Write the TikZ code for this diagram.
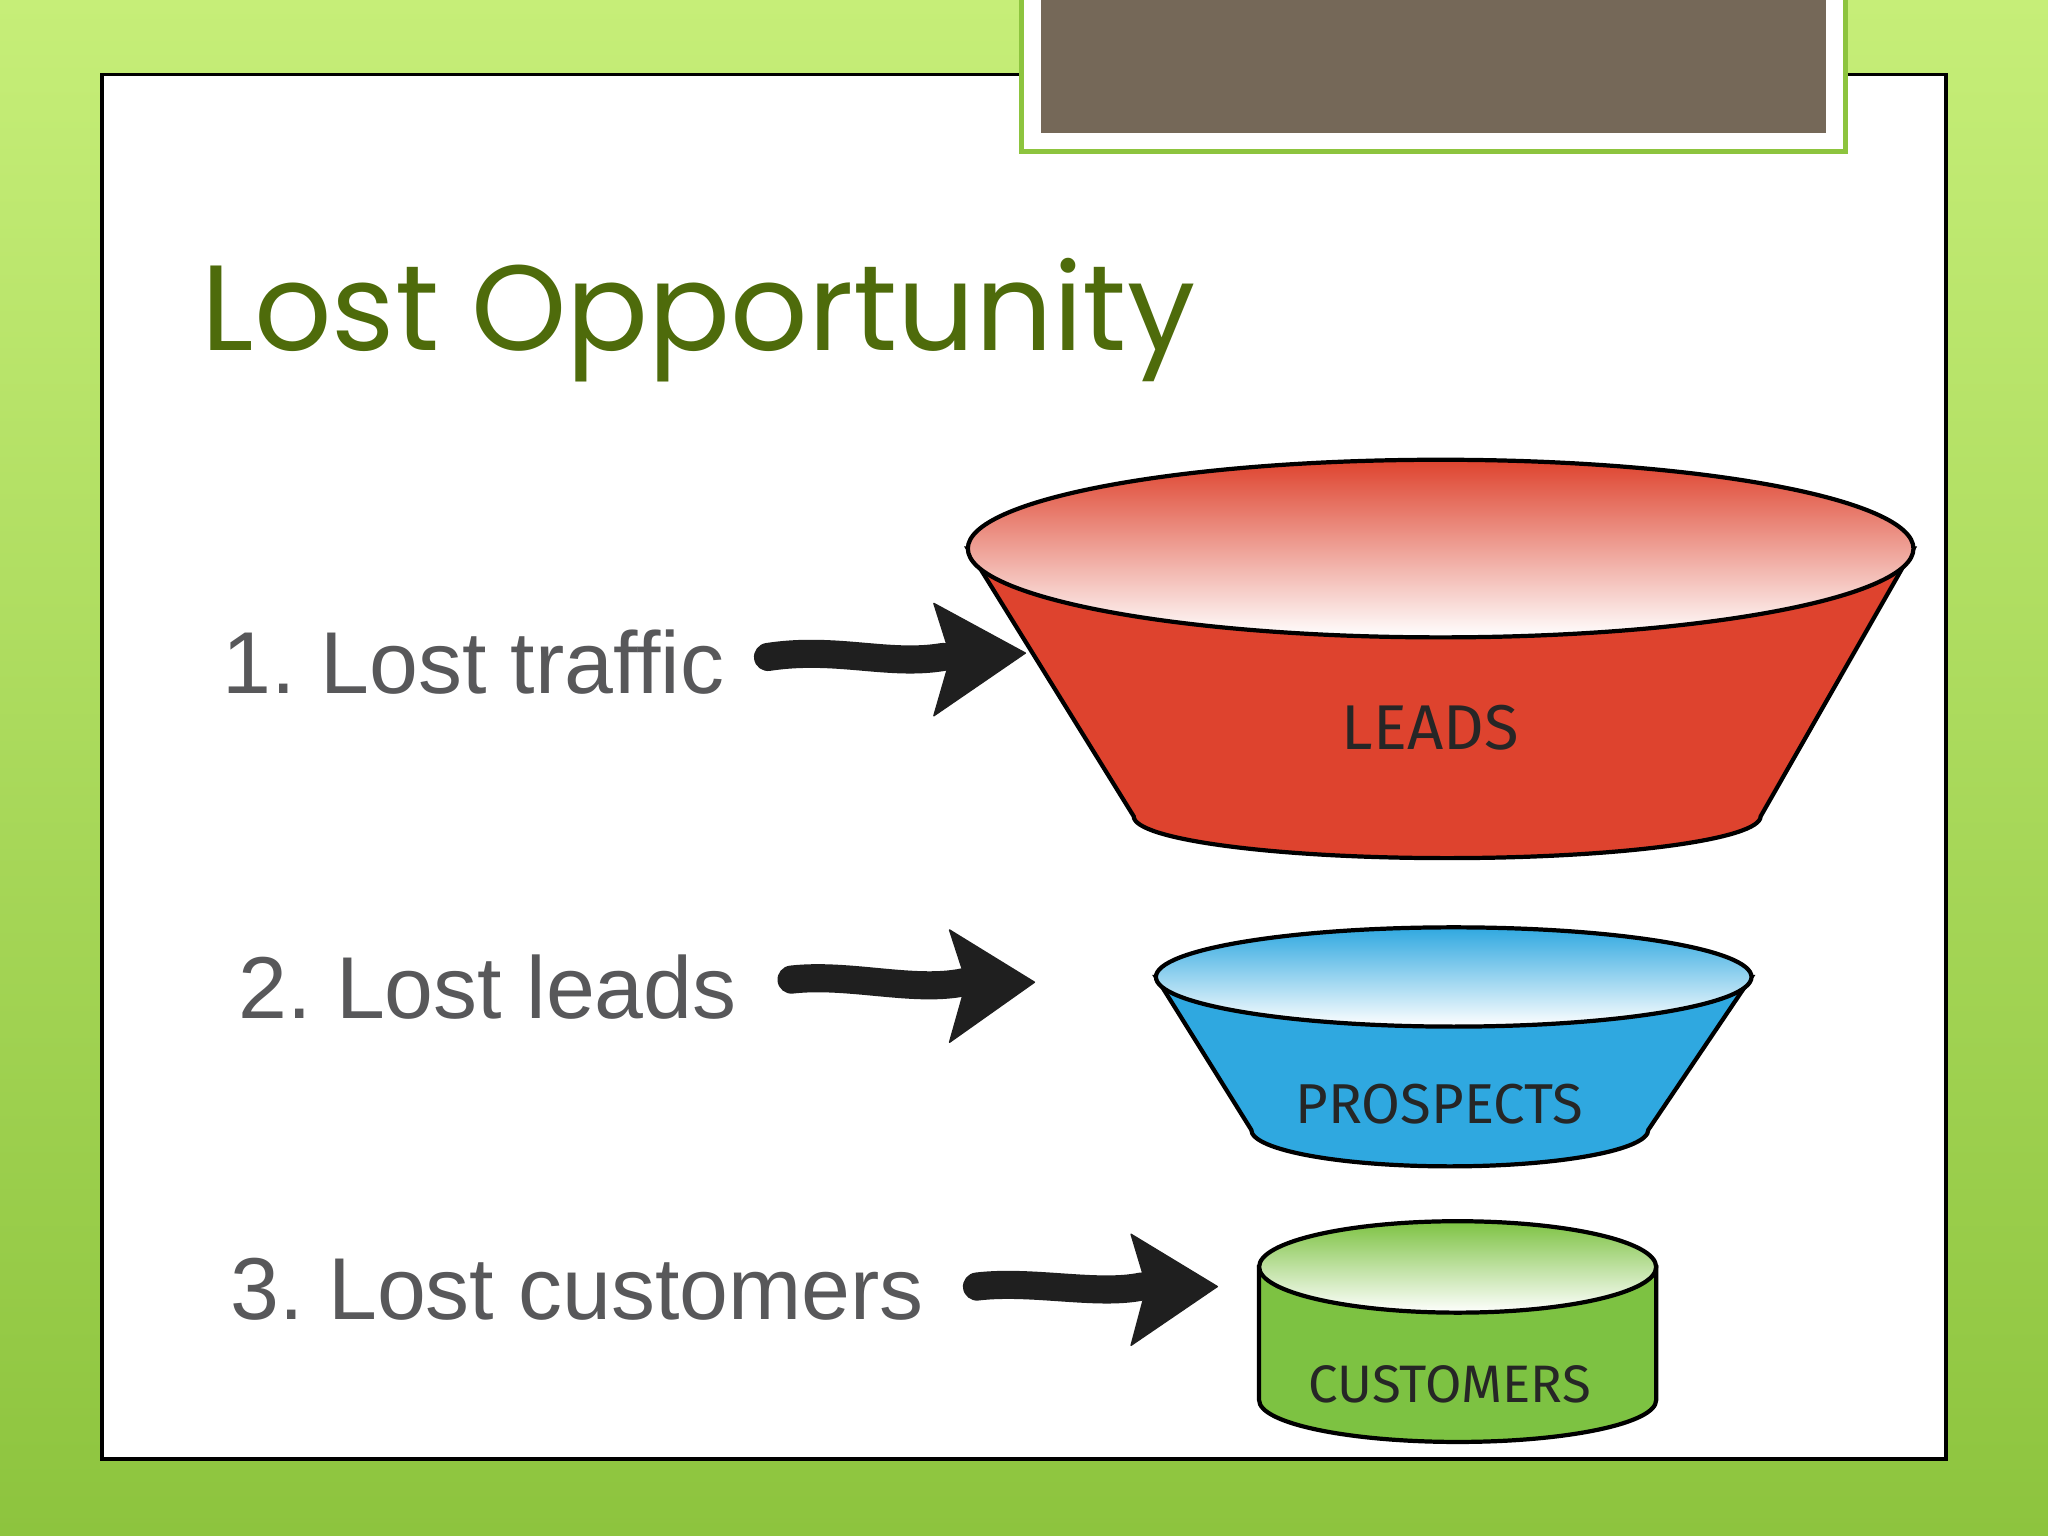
\documentclass[tikz,border=0pt]{standalone}
\usepackage{fontspec}
\setmainfont{Liberation Sans}
\newfontfamily\titlefont{Poppins}
\newfontfamily\handfont{Fira Sans}
\definecolor{bgA}{HTML}{C6EE78}
\definecolor{bgB}{HTML}{8DC43E}
\definecolor{brownbox}{HTML}{756858}
\definecolor{titlegreen}{HTML}{4E6B0B}
\definecolor{itemgray}{HTML}{58585A}
\definecolor{leadred}{HTML}{DE432E}
\definecolor{prosblue}{HTML}{2FA8E0}
\definecolor{custgreen}{HTML}{7DC242}
\tikzset{
 item/.style={anchor=base west,text=itemgray,font=\fontsize{25}{30}\selectfont,inner sep=0},
 flabel/.style={font=\handfont\fontsize{18}{22}\selectfont,text=black!85},
 shaft/.style={line width=8pt,line cap=round,black!88},
 head/.style={fill=black!88,draw=black!88,line join=round}
}
\begin{document}
\begin{tikzpicture}[x=0.013061cm,y=-0.013061cm]
\useasboundingbox (0,0) rectangle (1568,1176);
\shade[top color=bgA,bottom color=bgB] (0,0) rectangle (1568,1176);
\fill[white,draw=black,line width=1pt] (78,57) rectangle (1490,1117);
\fill[white,draw=bgB,line width=1.5pt] (782,-5) rectangle (1413,116);
\fill[brownbox] (797,-5) rectangle (1398,102);
\node[anchor=base west,text=titlegreen,font=\titlefont\fontsize{34.5}{40}\selectfont,inner sep=0] (title) at (154,268) {Lost Opportunity};
\node[item] (i1) at (170,531) {1.\ Lost traffic};
\node[item] (i2) at (182,780) {2.\ Lost leads};
\node[item] (i3) at (176,1010) {3.\ Lost customers};
% arrows
\coordinate (a1s) at (588,503); \coordinate (a1e) at (722,503);
\draw[shaft] (a1s) .. controls (640,495) and (680,510) .. (a1e);
\fill[head] (715,462) -- (785,500) -- (715,548) -- (728,503) -- cycle;
\coordinate (a2s) at (606,750); \coordinate (a2e) at (738,752);
\draw[shaft] (a2s) .. controls (650,745) and (700,760) .. (a2e);
\fill[head] (727,712) -- (792,752) -- (727,798) -- (740,752) -- cycle;
\coordinate (a3s) at (748,985); \coordinate (a3e) at (874,985);
\draw[shaft] (a3s) .. controls (790,980) and (840,992) .. (a3e);
\fill[head] (866,945) -- (932,985) -- (866,1030) -- (878,985) -- cycle;
% LEADS funnel
\filldraw[fill=leadred,draw=black,line width=1.2pt] (741,420) -- (868,625) arc[start angle=180,end angle=0,x radius=240,y radius=32] -- (1465,420) -- cycle;
\shade[top color=leadred,bottom color=white,draw=black,line width=1.2pt] (1103,420) ellipse[x radius=362,y radius=68];
\node[flabel] (leads) at (1095,557) {LEADS};
% PROSPECTS funnel
\filldraw[fill=prosblue,draw=black,line width=1.2pt] (885,748) -- (958,865) arc[start angle=180,end angle=0,x radius=152,y radius=28] -- (1341,748) -- cycle;
\shade[top color=prosblue,bottom color=white,draw=black,line width=1.2pt] (1113,748) ellipse[x radius=228,y radius=38];
\node[flabel,font=\handfont\fontsize{16}{20}\selectfont] (prospects) at (1102,845) {PROSPECTS};
% CUSTOMERS cylinder
\filldraw[fill=custgreen,draw=black,line width=1.2pt] (964,970) -- (964,1072) arc[start angle=180,end angle=0,x radius=152,y radius=32] -- (1268,970) -- cycle;
\shade[top color=custgreen,bottom color=white,draw=black,line width=1.2pt] (1116,970) ellipse[x radius=152,y radius=35];
\node[flabel,font=\handfont\fontsize{15}{20}\selectfont] (customers) at (1110,1060) {CUSTOMERS};
\end{tikzpicture}
\end{document}
